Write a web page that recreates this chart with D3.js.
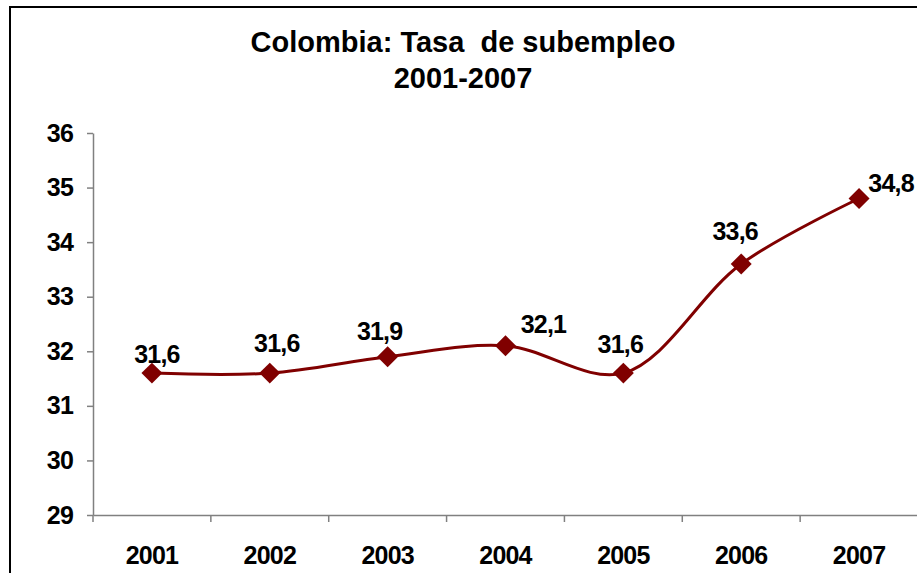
<!DOCTYPE html>
<html><head><meta charset="utf-8">
<script src="https://cdn.jsdelivr.net/npm/d3@7"></script>
<style>body{margin:0;background:#fff}svg{display:block}</style>
</head><body>
<script>
const years = ["2001","2002","2003","2004","2005","2006","2007"];
const values = [31.6, 31.6, 31.9, 32.1, 31.6, 33.6, 34.8];
const labels = ["31,6","31,6","31,9","32,1","31,6","33,6","34,8"];
const yTicks = [29,30,31,32,33,34,35,36];
const labelDx = [5, 7, -8, 38, -3, -6, 32];
const labelDy = [-10, -21, -17, -13, -20, -24, -6];

const W = 917, H = 573;
const FONT = "'Liberation Sans', Arial, sans-serif";
const svg = d3.select("body").append("svg").attr("width", W).attr("height", H)
  .style("font-family", FONT);

svg.append("rect").attr("x", 10).attr("y", 7).attr("width", 930).attr("height", 600)
  .attr("fill", "#fff").attr("stroke", "#000").attr("stroke-width", 2);

const x = d3.scaleBand().domain(years).range([93, 918]);
const y = d3.scaleLinear().domain([29, 36]).range([515, 133]);

svg.append("text").attr("x", 463).attr("y", 52).attr("text-anchor", "middle")
  .attr("font-size", 29).attr("font-weight", "bold")
  .style("white-space", "pre").text("Colombia: Tasa  de subempleo");
svg.append("text").attr("x", 463).attr("y", 88).attr("text-anchor", "middle")
  .attr("font-size", 29).attr("font-weight", "bold").text("2001-2007");

function styleText(sel) {
  sel.attr("font-size", 25).attr("font-weight", "bold").attr("fill", "#000")
    .attr("letter-spacing", -0.8).style("font-family", FONT);
}

const yAxis = svg.append("g").attr("transform", "translate(93,0)")
  .call(d3.axisLeft(y).tickValues(yTicks).tickFormat(d3.format("d"))
    .tickSize(6).tickSizeOuter(0).tickPadding(14));
styleText(yAxis.selectAll("text"));
yAxis.selectAll("line,path").attr("stroke", "#808080").attr("stroke-width", 1.5);

const xAxis = svg.append("g").attr("transform", "translate(0,515)")
  .call(d3.axisBottom(x).tickSize(0).tickSizeOuter(0).tickPadding(31));
styleText(xAxis.selectAll("text"));
xAxis.selectAll("path").attr("stroke", "#808080").attr("stroke-width", 1.5);
const bounds = years.map(d => x(d)).concat([x.range()[1]]);
xAxis.selectAll("line.sep").data(bounds).enter().append("line").attr("class", "sep")
  .attr("x1", d => d).attr("x2", d => d).attr("y1", 0).attr("y2", 7)
  .attr("stroke", "#808080").attr("stroke-width", 1.5);

const pts = years.map((d, i) => [x(d) + x.bandwidth() / 2, y(values[i])]);
svg.append("path").attr("d", d3.line().curve(d3.curveCatmullRom.alpha(0.5))(pts))
  .attr("fill", "none").attr("stroke", "#800000").attr("stroke-width", 3);

svg.selectAll("path.m").data(pts).enter().append("path").attr("class", "m")
  .attr("d", d3.symbol().type(d3.symbolSquare).size(220)())
  .attr("transform", d => `translate(${d[0]},${d[1]}) rotate(45)`)
  .attr("fill", "#800000");

const lbl = svg.selectAll("text.lbl").data(pts).enter().append("text").attr("class", "lbl")
  .attr("x", (d, i) => d[0] + labelDx[i]).attr("y", (d, i) => d[1] + labelDy[i])
  .attr("text-anchor", "middle").text((d, i) => labels[i]);
styleText(lbl);
</script>
</body></html>
